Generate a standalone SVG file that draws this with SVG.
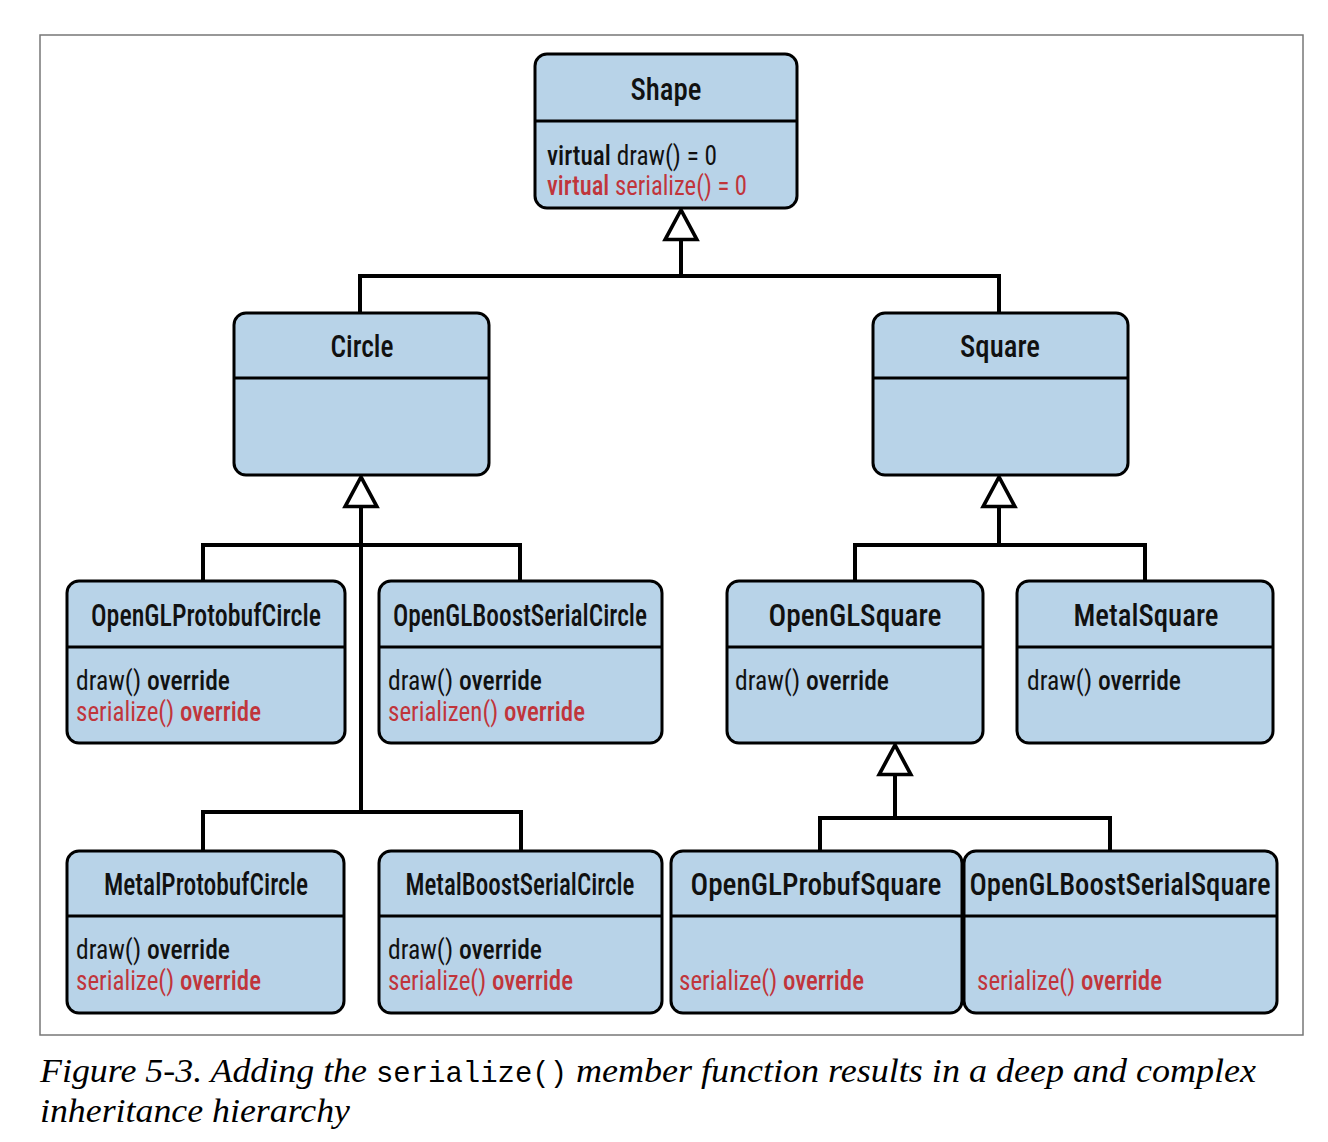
<svg xmlns="http://www.w3.org/2000/svg" width="1328" height="1142" viewBox="0 0 1328 1142">
<style>
.box{fill:#b8d3e8;stroke:#000;stroke-width:3}
.div{stroke:#000;stroke-width:3}
.t{font-family:"Liberation Sans Narrow","Roboto Condensed","DejaVu Sans Condensed","Liberation Sans",sans-serif;font-stretch:condensed;font-size:27px;fill:#111}
.ti{text-anchor:middle;font-size:31px;font-weight:500}
.m{font-size:27px}
.k{font-weight:500}
.r{fill:#c0353b}
.c{fill:none;stroke:#000;stroke-width:4;stroke-linejoin:miter}
.cap{font-family:"Liberation Serif",serif;font-style:italic;font-size:33px;fill:#000}
.mono{font-family:"Liberation Mono",monospace;font-size:29px;fill:#000}
</style>
<defs>
<marker id="tri" markerUnits="userSpaceOnUse" markerWidth="36" markerHeight="40" viewBox="-3 -19 34 38" refX="28" refY="0" orient="auto">
<path d="M28 0 L0 -15 L0 15 Z" fill="#fff" stroke="#000" stroke-width="3.5" stroke-linejoin="miter"/>
</marker>
</defs>
<rect x="40" y="35" width="1263" height="1000" fill="#fff" stroke="#777" stroke-width="1.5"/>

<g id="connectors">
<path class="c" d="M681 276 L681 210" marker-end="url(#tri)"/>
<path class="c" d="M360 313 L360 276 L999 276 L999 313"/>
<path class="c" d="M361 812 L361 477" marker-end="url(#tri)"/>
<path class="c" d="M203 581 L203 545 L520 545 L520 581"/>
<path class="c" d="M203 851 L203 812 L521 812 L521 851"/>
<path class="c" d="M999 545 L999 477" marker-end="url(#tri)"/>
<path class="c" d="M855 581 L855 545 L1145 545 L1145 581"/>
<path class="c" d="M895 818 L895 745" marker-end="url(#tri)"/>
<path class="c" d="M820 851 L820 818 L1110 818 L1110 851"/>
</g>

<g id="Shape">
<rect class="box" x="535" y="54" width="262" height="154" rx="12"/>
<line class="div" x1="535" y1="121" x2="797" y2="121"/>
<text class="t ti" x="666" y="100" textLength="71" lengthAdjust="spacingAndGlyphs">Shape</text>
<text class="t m" x="547" y="165" textLength="170" lengthAdjust="spacingAndGlyphs"><tspan class="k">virtual</tspan> draw() = 0</text>
<text class="t m r" x="547" y="195" textLength="200" lengthAdjust="spacingAndGlyphs"><tspan class="k">virtual</tspan> serialize() = 0</text>
</g>

<g id="Circle">
<rect class="box" x="234" y="313" width="255" height="162" rx="12"/>
<line class="div" x1="234" y1="378" x2="489" y2="378"/>
<text class="t ti" x="362" y="357" textLength="63" lengthAdjust="spacingAndGlyphs">Circle</text>
</g>

<g id="Square">
<rect class="box" x="873" y="313" width="255" height="162" rx="12"/>
<line class="div" x1="873" y1="378" x2="1128" y2="378"/>
<text class="t ti" x="1000" y="357" textLength="80" lengthAdjust="spacingAndGlyphs">Square</text>
</g>

<g id="OpenGLProtobufCircle">
<rect class="box" x="67" y="581" width="278" height="162" rx="12"/>
<line class="div" x1="67" y1="647" x2="345" y2="647"/>
<text class="t ti" x="206" y="626" textLength="230" lengthAdjust="spacingAndGlyphs">OpenGLProtobufCircle</text>
<text class="t m" x="76" y="690" textLength="154" lengthAdjust="spacingAndGlyphs">draw() <tspan class="k">override</tspan></text>
<text class="t m r" x="76" y="721" textLength="185" lengthAdjust="spacingAndGlyphs">serialize() <tspan class="k">override</tspan></text>
</g>

<g id="OpenGLBoostSerialCircle">
<rect class="box" x="379" y="581" width="283" height="162" rx="12"/>
<line class="div" x1="379" y1="647" x2="662" y2="647"/>
<text class="t ti" x="520" y="626" textLength="254" lengthAdjust="spacingAndGlyphs">OpenGLBoostSerialCircle</text>
<text class="t m" x="388" y="690" textLength="154" lengthAdjust="spacingAndGlyphs">draw() <tspan class="k">override</tspan></text>
<text class="t r" x="388" y="721" font-size="26" textLength="197" lengthAdjust="spacingAndGlyphs">serializen() <tspan class="k">override</tspan></text>
</g>

<g id="OpenGLSquare">
<rect class="box" x="727" y="581" width="256" height="162" rx="12"/>
<line class="div" x1="727" y1="647" x2="983" y2="647"/>
<text class="t ti" x="855" y="626" textLength="173" lengthAdjust="spacingAndGlyphs">OpenGLSquare</text>
<text class="t m" x="735" y="690" textLength="154" lengthAdjust="spacingAndGlyphs">draw() <tspan class="k">override</tspan></text>
</g>

<g id="MetalSquare">
<rect class="box" x="1017" y="581" width="256" height="162" rx="12"/>
<line class="div" x1="1017" y1="647" x2="1273" y2="647"/>
<text class="t ti" x="1146" y="626" textLength="145" lengthAdjust="spacingAndGlyphs">MetalSquare</text>
<text class="t m" x="1027" y="690" textLength="154" lengthAdjust="spacingAndGlyphs">draw() <tspan class="k">override</tspan></text>
</g>

<g id="MetalProtobufCircle">
<rect class="box" x="67" y="851" width="277" height="162" rx="12"/>
<line class="div" x1="67" y1="916" x2="344" y2="916"/>
<text class="t ti" x="206" y="895" textLength="204" lengthAdjust="spacingAndGlyphs">MetalProtobufCircle</text>
<text class="t m" x="76" y="959" textLength="154" lengthAdjust="spacingAndGlyphs">draw() <tspan class="k">override</tspan></text>
<text class="t m r" x="76" y="990" textLength="185" lengthAdjust="spacingAndGlyphs">serialize() <tspan class="k">override</tspan></text>
</g>

<g id="MetalBoostSerialCircle">
<rect class="box" x="379" y="851" width="283" height="162" rx="12"/>
<line class="div" x1="379" y1="916" x2="662" y2="916"/>
<text class="t ti" x="520" y="895" textLength="229" lengthAdjust="spacingAndGlyphs">MetalBoostSerialCircle</text>
<text class="t m" x="388" y="959" textLength="154" lengthAdjust="spacingAndGlyphs">draw() <tspan class="k">override</tspan></text>
<text class="t m r" x="388" y="990" textLength="185" lengthAdjust="spacingAndGlyphs">serialize() <tspan class="k">override</tspan></text>
</g>

<g id="OpenGLProbufSquare">
<rect class="box" x="671" y="851" width="291" height="162" rx="12"/>
<line class="div" x1="671" y1="916" x2="962" y2="916"/>
<text class="t ti" x="816" y="895" textLength="251" lengthAdjust="spacingAndGlyphs">OpenGLProbufSquare</text>
<text class="t m r" x="679" y="990" textLength="185" lengthAdjust="spacingAndGlyphs">serialize() <tspan class="k">override</tspan></text>
</g>

<g id="OpenGLBoostSerialSquare">
<rect class="box" x="964" y="851" width="313" height="162" rx="12"/>
<line class="div" x1="964" y1="916" x2="1277" y2="916"/>
<text class="t ti" x="1120" y="895" textLength="301" lengthAdjust="spacingAndGlyphs">OpenGLBoostSerialSquare</text>
<text class="t m r" x="977" y="990" textLength="185" lengthAdjust="spacingAndGlyphs">serialize() <tspan class="k">override</tspan></text>
</g>

<g id="caption">
<text class="cap" x="40" y="1082" textLength="327" lengthAdjust="spacingAndGlyphs">Figure 5-3. Adding the</text>
<text class="mono" x="376" y="1082" textLength="191" lengthAdjust="spacingAndGlyphs">serialize()</text>
<text class="cap" x="576" y="1082" textLength="680" lengthAdjust="spacingAndGlyphs">member function results in a deep and complex</text>
<text class="cap" x="40" y="1122" textLength="310" lengthAdjust="spacingAndGlyphs">inheritance hierarchy</text>
</g>
</svg>
